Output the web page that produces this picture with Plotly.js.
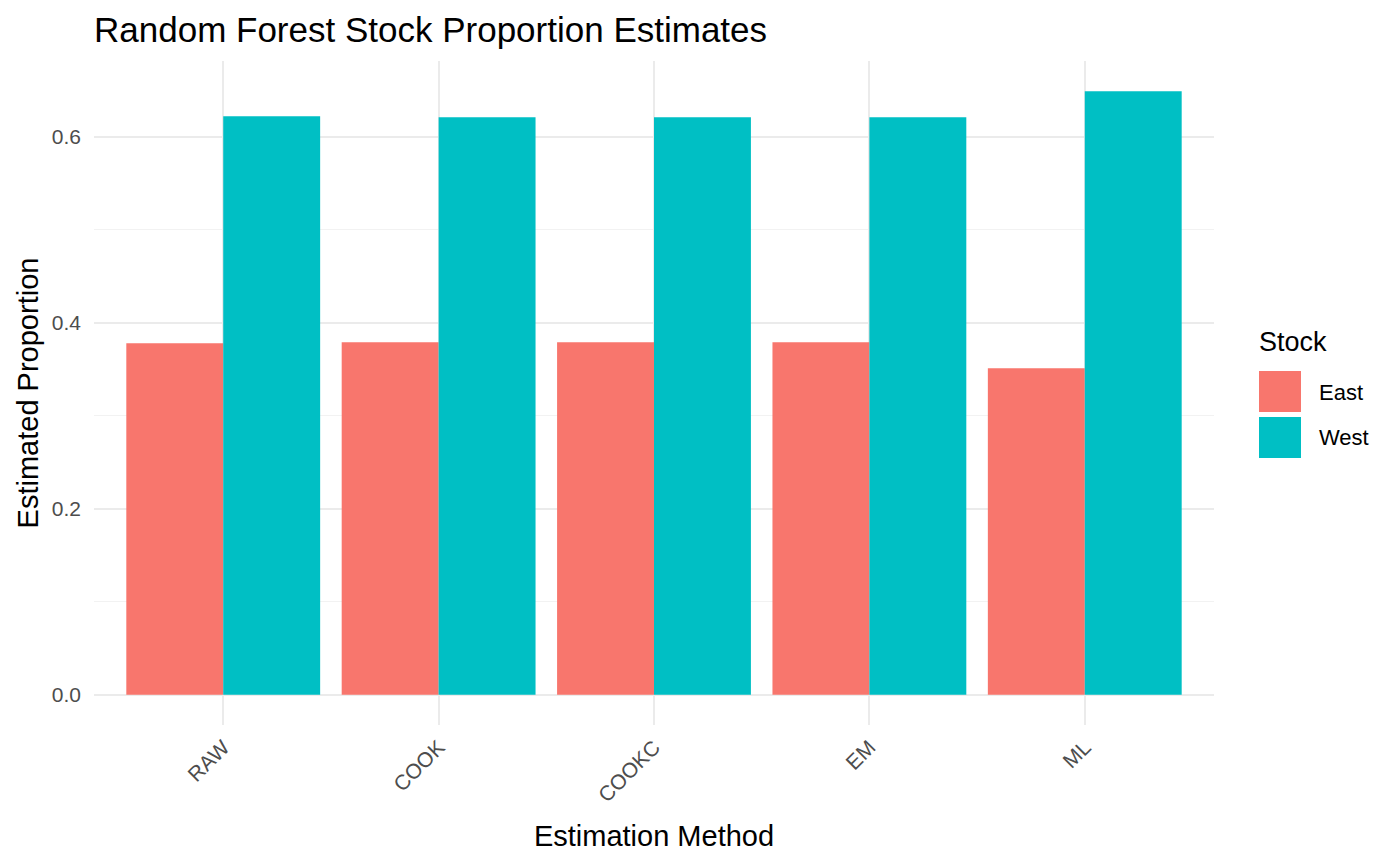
<!DOCTYPE html>
<html>
<head>
<meta charset="utf-8">
<script src="https://cdn.plot.ly/plotly-3.0.1.min.js"></script>
<style>
  body { margin: 0; background: #fff; }
  #graph { width: 1400px; height: 865px; }
</style>
</head>
<body>
<div id="graph"></div>
<script>
// values
const methods = ['RAW', 'COOK', 'COOKC', 'EM', 'ML'];
const stocks = ['East', 'West'];
const eastValues = [0.378, 0.379, 0.379, 0.379, 0.351];
const westValues = [0.622, 0.621, 0.621, 0.621, 0.649];
const yTicks = [0, 0.2, 0.4, 0.6];
const yMinor = [0.1, 0.3, 0.5];
const stockColors = ['#F8766D', '#00BFC4'];

const font = 'Liberation Sans, Arial, sans-serif';

// plot area in pixels, used to place the hand-drawn legend
const W = 1400, H = 865;
const M = { l: 94, r: 186, t: 61, b: 140 };
const px = x => (x - M.l) / (W - M.l - M.r);
const py = y => (H - M.b - y) / (H - M.t - M.b);

let data = [
    {
        x: methods,
        y: eastValues,
        type: 'bar',
        name: stocks[0],
        marker: { color: stockColors[0] },
        showlegend: false
    },
    {
        x: methods,
        y: westValues,
        type: 'bar',
        name: stocks[1],
        marker: { color: stockColors[1] },
        showlegend: false
    }
];

// legend drawn by hand so the keys get ggplot's big squares
let shapes = [], annotations = [];
annotations.push({
    text: 'Stock', xref: 'paper', yref: 'paper',
    x: px(1257), y: py(342), xanchor: 'left', yanchor: 'middle',
    showarrow: false, font: { size: 27, color: '#000000' }
});
stocks.forEach((s, i) => {
    let top = 371 + i * 46;
    shapes.push({
        type: 'rect', xref: 'paper', yref: 'paper',
        x0: px(1259), x1: px(1301), y0: py(top), y1: py(top + 41),
        fillcolor: stockColors[i], line: { width: 0 }
    });
    annotations.push({
        text: s, xref: 'paper', yref: 'paper',
        x: px(1317), y: py(top + 21), xanchor: 'left', yanchor: 'middle',
        showarrow: false, font: { size: 22, color: '#000000' }
    });
});

let layout = {
    width: W,
    height: H,
    margin: M,
    paper_bgcolor: '#ffffff',
    plot_bgcolor: '#ffffff',
    font: { family: font, color: '#000000' },
    barmode: 'group',
    bargap: 0.1,
    bargroupgap: 0,
    showlegend: false,
    title: {
        text: 'Random Forest Stock Proportion Estimates',
        font: { size: 35, color: '#000000' },
        x: 0, xref: 'paper', xanchor: 'left',
        y: 1 - 30 / H, yref: 'container', yanchor: 'middle'
    },
    xaxis: {
        type: 'category',
        range: [-0.6, 4.6],
        showgrid: true,
        gridcolor: '#ebebeb',
        gridwidth: 2,
        zeroline: false,
        showline: false,
        ticks: '',
        tickangle: -45,
        ticklabelstandoff: 5,
        tickfont: { size: 21, color: '#4d4d4d' },
        title: { text: 'Estimation Method', font: { size: 29, color: '#000000' }, standoff: 20 }
    },
    yaxis: {
        range: [-0.0324, 0.6814],
        tickvals: yTicks,
        tickformat: '.1f',
        showgrid: true,
        gridcolor: '#ebebeb',
        gridwidth: 2,
        zeroline: false,
        showline: false,
        ticks: '',
        ticklabelstandoff: 12,
        tickfont: { size: 21, color: '#4d4d4d' },
        minor: { tickvals: yMinor, showgrid: true, gridcolor: '#f2f2f2', gridwidth: 1, ticks: '' },
        title: { text: 'Estimated Proportion', font: { size: 29, color: '#000000' }, standoff: 4 }
    },
    shapes: shapes,
    annotations: annotations
};

Plotly.newPlot('graph', data, layout, { displayModeBar: false });
</script>
</body>
</html>
